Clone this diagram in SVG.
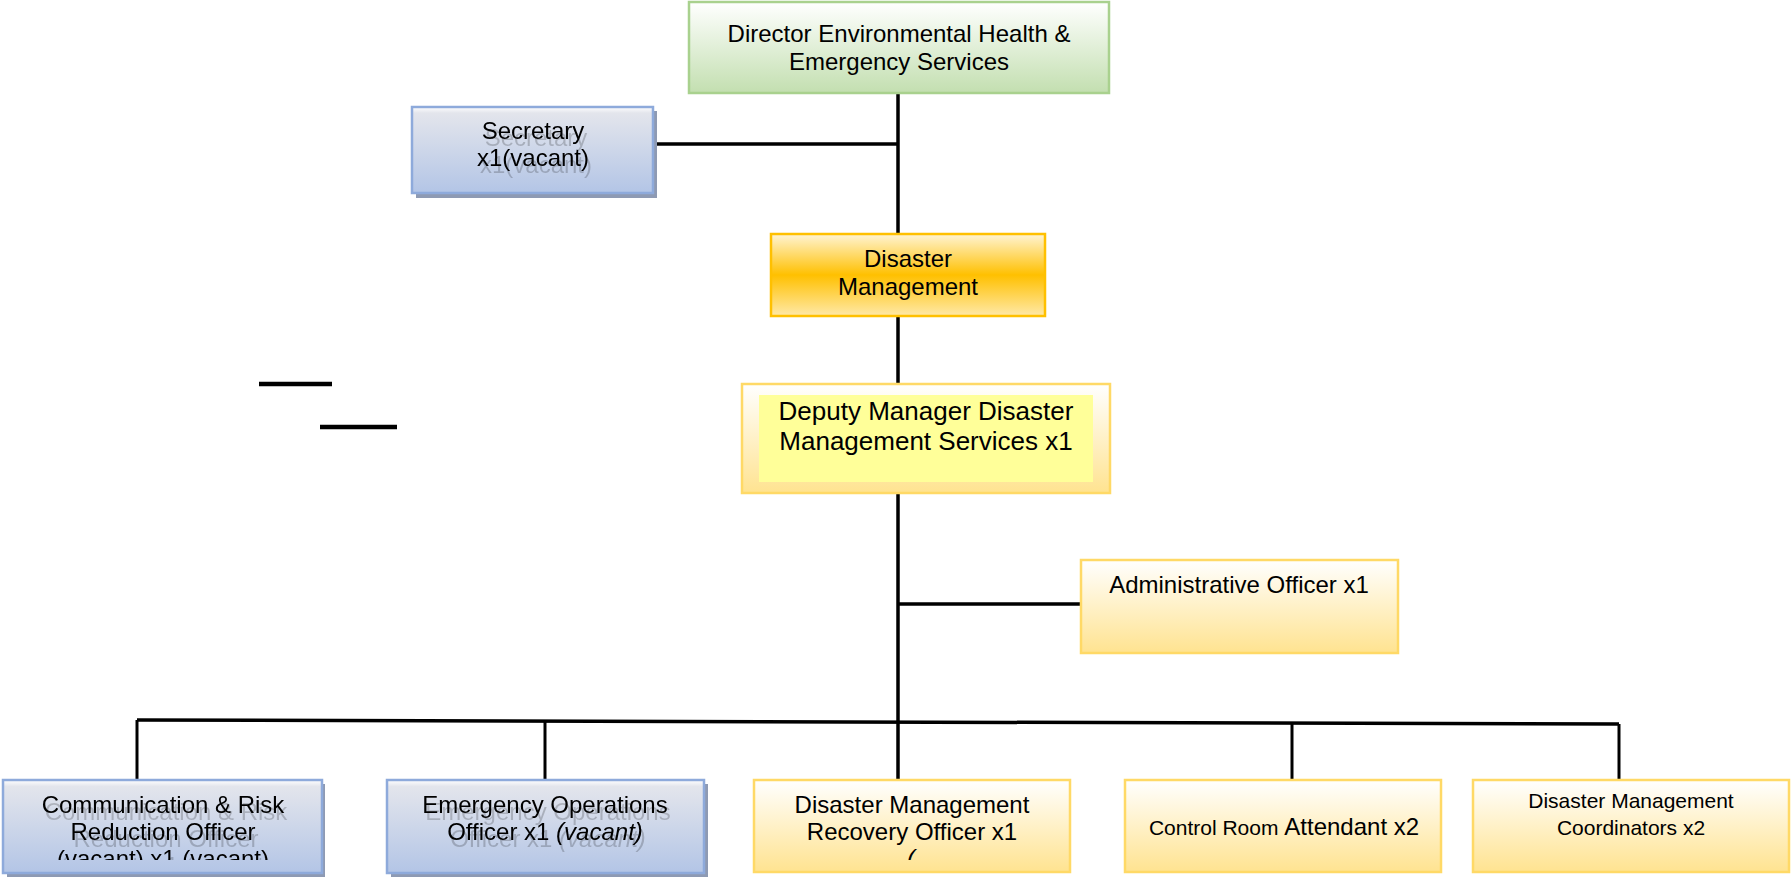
<svg xmlns="http://www.w3.org/2000/svg" width="1792" height="878" viewBox="0 0 1792 878">
<style>
text{font-family:"Liberation Sans",Arial,sans-serif;fill:#000;text-anchor:middle}
.f24{font-size:24px}
.f21{font-size:21px}
.f26{font-size:26px}
.ln{stroke:#000;stroke-width:3.5;fill:none}
.ln3{stroke:#000;stroke-width:3;fill:none}
.blue{fill:url(#gBlue);stroke:#8eaadb;stroke-width:2.5}
.shadow{fill:#8e9ab3}
.yel{fill:url(#gYel);stroke:#ffd966;stroke-width:2.5}
</style>
<defs>
<linearGradient id="gGreen" x1="0" y1="0" x2="0" y2="1">
<stop offset="0" stop-color="#ffffff"/>
<stop offset="1" stop-color="#c3dfb0"/>
</linearGradient>
<linearGradient id="gGold" x1="0" y1="0" x2="0" y2="1">
<stop offset="0" stop-color="#fff4d4"/>
<stop offset="0.5" stop-color="#ffc000"/>
<stop offset="1" stop-color="#ffe9a8"/>
</linearGradient>
<linearGradient id="gYel" x1="0" y1="0" x2="0" y2="1">
<stop offset="0" stop-color="#ffffff"/>
<stop offset="1" stop-color="#ffe390"/>
</linearGradient>
<linearGradient id="gBlue" x1="0" y1="0" x2="0" y2="1">
<stop offset="0" stop-color="#ffffff"/>
<stop offset="0.07" stop-color="#e3e5ec"/>
<stop offset="1" stop-color="#b3c5e6"/>
</linearGradient>
<filter id="ghost" x="-10%" y="-20%" width="130%" height="170%">
<feOffset in="SourceAlpha" dx="3" dy="7" result="o"/>
<feGaussianBlur in="o" stdDeviation="0.6" result="b"/>
<feComponentTransfer in="b" result="g"><feFuncA type="linear" slope="0.2"/></feComponentTransfer>
<feMerge><feMergeNode in="g"/><feMergeNode in="SourceGraphic"/></feMerge>
</filter>
<clipPath id="clipBottom">
<rect x="0" y="0" width="1792" height="860"/>
</clipPath>
</defs>
<rect width="1792" height="878" fill="#fff"/>

<g id="connectors">
<line class="ln" x1="898" y1="93" x2="898" y2="234"/>
<line class="ln" x1="655" y1="144" x2="898" y2="144"/>
<line class="ln" x1="898" y1="316" x2="898" y2="384"/>
<line class="ln" x1="898" y1="493" x2="898" y2="780"/>
<line class="ln" x1="898" y1="604" x2="1081" y2="604"/>
<line class="ln" x1="137" y1="720" x2="1619" y2="724"/>
<line class="ln3" x1="137" y1="720" x2="137" y2="780"/>
<line class="ln3" x1="545" y1="721" x2="545" y2="780"/>
<line class="ln3" x1="1292" y1="723" x2="1292" y2="780"/>
<line class="ln3" x1="1619" y1="724" x2="1619" y2="780"/>
<line stroke="#000" stroke-width="4.5" x1="259" y1="384" x2="332" y2="384"/>
<line stroke="#000" stroke-width="4.5" x1="320" y1="427" x2="397" y2="427"/>
</g>

<g id="director">
<rect x="689" y="2" width="420" height="91" fill="url(#gGreen)" stroke="#a9d18e" stroke-width="2.5"/>
<text class="f24" x="899" y="42">Director Environmental Health &amp;</text>
<text class="f24" x="899" y="70">Emergency Services</text>
</g>

<g id="secretary">
<rect class="shadow" x="416" y="111" width="241" height="87"/>
<rect class="blue" x="412" y="107" width="241" height="86"/>
<g filter="url(#ghost)">
<text class="f24" x="533" y="139">Secretary</text>
<text class="f24" x="533" y="166">x1(vacant)</text>
</g>
</g>

<g id="disaster-management">
<rect x="771" y="234" width="274" height="82" fill="url(#gGold)" stroke="#ffc000" stroke-width="2.5"/>
<text class="f24" x="908" y="267">Disaster</text>
<text class="f24" x="908" y="295">Management</text>
</g>

<g id="deputy-manager">
<rect x="742" y="384" width="368" height="109" fill="url(#gYel)" stroke="#ffd966" stroke-width="2.5"/>
<rect x="759" y="395" width="334" height="87" fill="#ffff99"/>
<text class="f26" x="926" y="420">Deputy Manager Disaster</text>
<text class="f26" x="926" y="450">Management Services x1</text>
</g>

<g id="admin-officer">
<rect class="yel" x="1081" y="560" width="317" height="93"/>
<text class="f24" x="1239" y="593">Administrative Officer x1</text>
</g>

<g id="comm-risk-officer">
<rect class="shadow" x="7" y="784" width="318" height="93"/>
<rect class="blue" x="3" y="780" width="319" height="93"/>
<g filter="url(#ghost)" clip-path="url(#clipBottom)">
<text class="f24" x="163" y="813">Communication &amp; Risk</text>
<text class="f24" x="163" y="840">Reduction Officer</text>
<text class="f24" x="163" y="867">(vacant) x1 (vacant)</text>
</g>
</g>

<g id="emergency-ops-officer">
<rect class="shadow" x="391" y="784" width="317" height="93"/>
<rect class="blue" x="387" y="780" width="317" height="93"/>
<g filter="url(#ghost)">
<text class="f24" x="545" y="813">Emergency Operations</text>
<text class="f24" x="545" y="840">Officer x1 <tspan font-style="italic">(vacant)</tspan></text>
</g>
</g>

<g id="dm-recovery-officer">
<rect class="yel" x="754" y="780" width="316" height="92"/>
<text class="f24" x="912" y="813">Disaster Management</text>
<text class="f24" x="912" y="840">Recovery Officer x1</text>
<text class="f24" x="911" y="867" font-style="italic" clip-path="url(#clipBottom)">(</text>
</g>

<g id="control-room-attendant">
<rect class="yel" x="1125" y="780" width="316" height="92"/>
<text x="1284" y="835"><tspan class="f21">Control Room </tspan><tspan class="f24">Attendant x2</tspan></text>
</g>

<g id="dm-coordinators">
<rect class="yel" x="1473" y="780" width="316" height="92"/>
<text class="f21" x="1631" y="808">Disaster Management</text>
<text class="f21" x="1631" y="835">Coordinators x2</text>
</g>
</svg>
